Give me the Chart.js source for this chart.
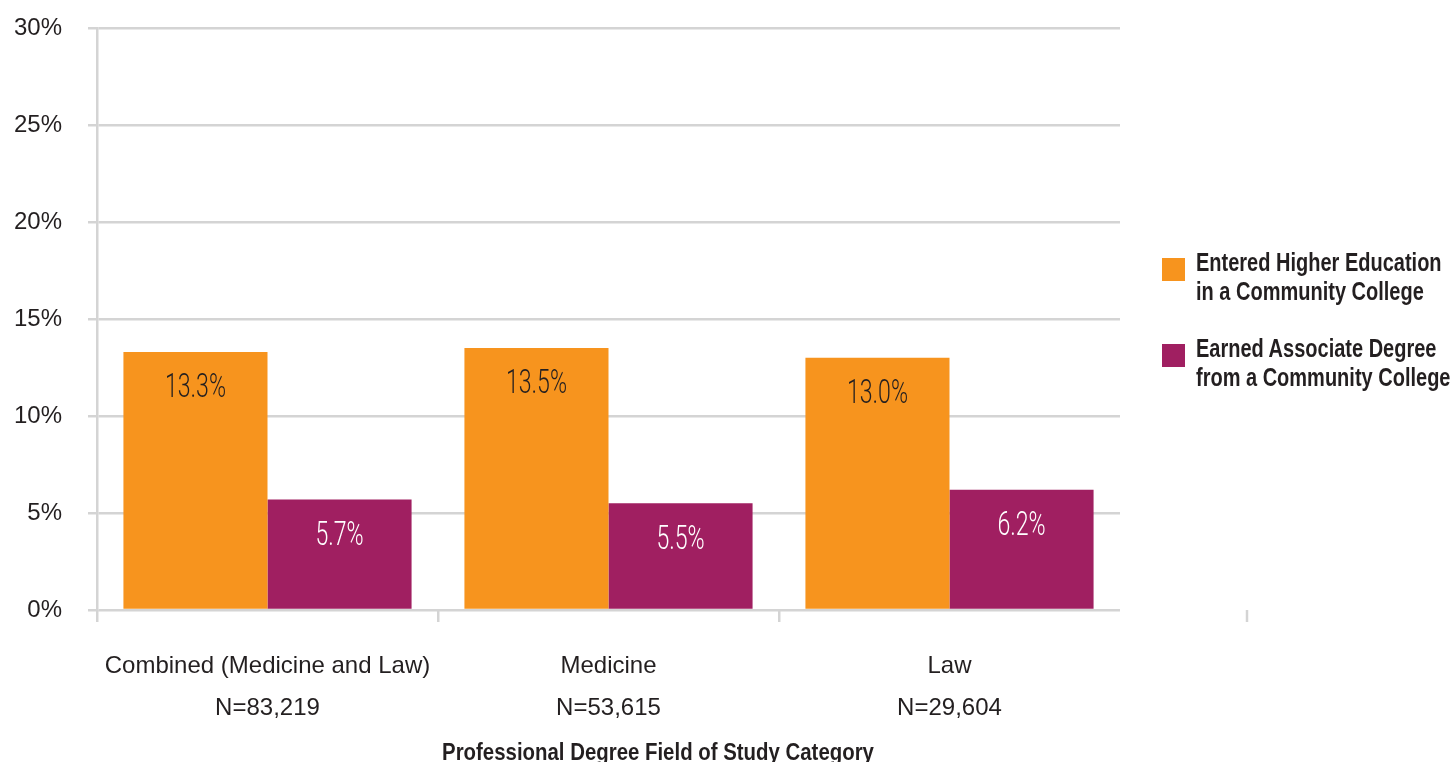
<!DOCTYPE html>
<html><head><meta charset="utf-8">
<script src="https://cdn.jsdelivr.net/npm/chart.js@4.4.0/dist/chart.umd.min.js"></script>
<style>
html,body{margin:0;padding:0;background:#fff;overflow:hidden;}
#wrap{position:relative;width:1454px;height:762px;}
canvas{position:absolute;left:0;top:0;}
#legend{position:absolute;left:1162px;top:248px;font-family:"Liberation Sans",Arial,sans-serif;font-weight:bold;font-size:25px;color:#231f20;line-height:29px;}
.li{position:relative;height:86px;}
.sw{position:absolute;left:0;top:10px;width:23px;height:23px;}
.tx{position:absolute;left:34px;top:0;white-space:nowrap;transform:scaleX(0.8);transform-origin:0 0;}
#xtitle{position:absolute;left:658px;top:738px;white-space:nowrap;font-family:"Liberation Sans",Arial,sans-serif;font-weight:bold;font-size:24px;color:#231f20;transform:translateX(-50%) scaleX(0.85);transform-origin:50% 0;}
</style></head>
<body><div id="wrap"><canvas id="c" width="1454" height="762"></canvas><div id="legend"></div><div id="xtitle"></div></div>
<script>
const categories = ['Combined (Medicine and Law)', 'Medicine', 'Law'];
const sampleSizes = ['N=83,219', 'N=53,615', 'N=29,604'];
const seriesNames = [['Entered Higher Education', 'in a Community College'], ['Earned Associate Degree', 'from a Community College']];
const enteredCC = [13.3, 13.5, 13.0];
const earnedAssoc = [5.7, 5.5, 6.2];
const yTicks = [0, 5, 10, 15, 20, 25, 30];
const xTitle = 'Professional Degree Field of Study Category';

const colors = ['#F7941E', '#A01F61'];
const labelColors = ['#231f20', '#ffffff'];

const barLabels = {
  id: 'barLabels',
  afterDatasetsDraw(chart) {
    const ctx = chart.ctx;
    chart.data.datasets.forEach((ds, di) => {
      const meta = chart.getDatasetMeta(di);
      meta.data.forEach((bar, i) => {
        ctx.save();
        ctx.translate(bar.x, bar.y + 37);
        ctx.scale(0.7, 1);
        ctx.font = '300 33px Roboto, "Liberation Sans", sans-serif';
        ctx.fillStyle = labelColors[di];
        ctx.textAlign = 'center';
        ctx.textBaseline = 'middle';
        ctx.fillText(ds.data[i].toFixed(1) + '%', 0, 0);
        ctx.restore();
      });
    });
  },
  afterDraw(chart) {
    const ctx = chart.ctx, a = chart.chartArea;
    ctx.save();
    ctx.strokeStyle = '#d4d4d4';
    ctx.lineWidth = 2.5;
    ctx.beginPath();
    ctx.moveTo(a.right + 127, a.bottom);
    ctx.lineTo(a.right + 127, a.bottom + 12);
    ctx.stroke();
    ctx.restore();
  }
};

const chart = new Chart(document.getElementById('c'), {
  type: 'bar',
  data: {
    labels: categories.map((c, i) => [c, sampleSizes[i]]),
    datasets: [
      { label: seriesNames[0].join(' '), data: enteredCC, backgroundColor: colors[0] },
      { label: seriesNames[1].join(' '), data: earnedAssoc, backgroundColor: colors[1] }
    ]
  },
  options: {
    responsive: false,
    animation: false,
    devicePixelRatio: 1,
    layout: { padding: { top: 28, right: 334, bottom: 0, left: 0 } },
    plugins: { legend: { display: false }, tooltip: { enabled: false } },
    datasets: { bar: { categoryPercentage: 0.845, barPercentage: 1.0 } },
    scales: {
      x: {
        offset: true,
        grid: {
          offset: true, drawOnChartArea: false, tickLength: 12, lineWidth: 2.5,
          color: (c) => (c.type === 'tick' ? '#d4d4d4' : 'rgba(0,0,0,0)')
        },
        border: { display: false },
        ticks: {
          color: '#231f20', padding: 23,
          font: { family: '"Liberation Sans", Arial, sans-serif', size: 24, lineHeight: 1.75 }
        },
        afterFit(s) { s.height = 762 - 610; s.paddingLeft = 0; s.paddingRight = 0; }
      },
      y: {
        min: 0, max: 30,
        afterBuildTicks(s) { s.ticks = yTicks.map(v => ({ value: v })); },
        grid: { color: '#d4d4d4', lineWidth: 2.5, tickLength: 9 },
        border: { display: true, color: '#d4d4d4', width: 2.5 },
        ticks: {
          color: '#231f20', padding: 26,
          font: { family: '"Liberation Sans", Arial, sans-serif', size: 24 },
          callback: (v) => v + '%'
        },
        afterFit(s) { s.width = 97; s.paddingTop = 0; s.paddingBottom = 0; }
      }
    }
  },
  plugins: [barLabels]
});

const lg = document.getElementById('legend');
seriesNames.forEach((n, i) => {
  const d = document.createElement('div'); d.className = 'li';
  d.innerHTML = '<div class="sw" style="background:' + colors[i] + '"></div><div class="tx">' + n.join('<br>') + '</div>';
  lg.appendChild(d);
});
document.getElementById('xtitle').textContent = xTitle;
</script></body></html>
